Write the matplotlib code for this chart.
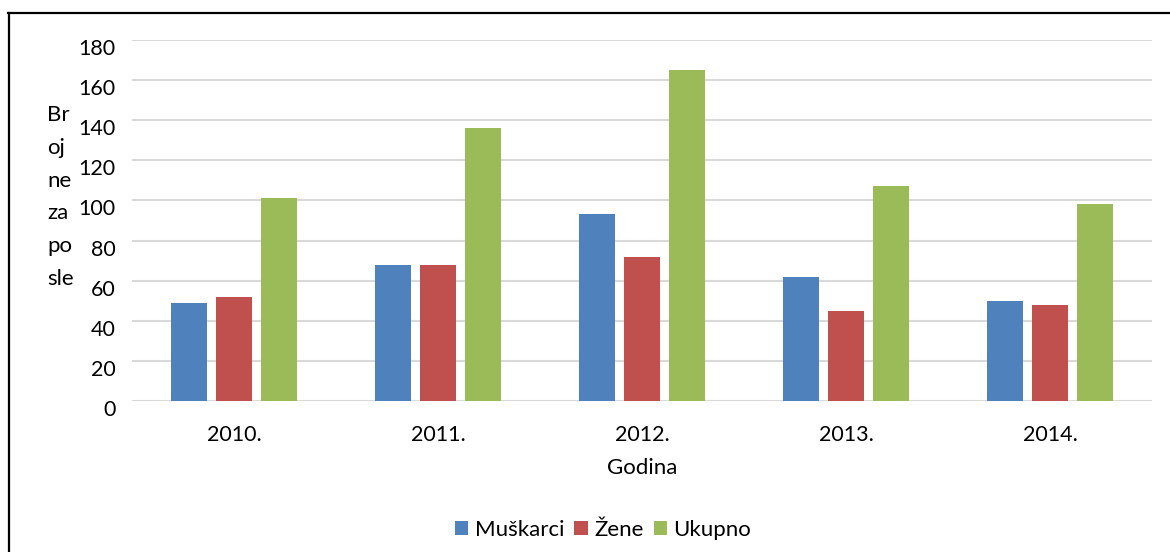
import numpy as np
import matplotlib
matplotlib.use("Agg")
import matplotlib.pyplot as plt
import matplotlib.transforms as mtransforms
from matplotlib.lines import Line2D

plt.rcParams['font.family'] = ['Lato', 'DejaVu Sans']

years = ['2010.', '2011.', '2012.', '2013.', '2014.']
muskarci = [49, 68, 93, 62, 50]
zene = [52, 68, 72, 45, 48]
ukupno = [101, 136, 165, 107, 98]
series_names = ['Muškarci', 'Žene', 'Ukupno']
colors = ['#4F81BD', '#C0504D', '#9BBB59']

FS = 15.5
BAR_W = 36 / 204
STEP = 45 / 204

fig = plt.figure(figsize=(11.7, 5.52), dpi=100)
ax = fig.add_axes([132 / 1170, 1 - 401 / 552, 1020 / 1170, 361 / 552])

x = np.arange(len(years))
for i, (vals, name, col) in enumerate(zip([muskarci, zene, ukupno], series_names, colors)):
    ax.bar(x + (i - 1) * STEP, vals, BAR_W, color=col, label=name, zorder=2)

ax.set_xlim(-0.5, len(years) - 0.5)
ax.set_ylim(0, 180)
ax.set_yticks(np.arange(0, 181, 20))
ax.set_xticks(x)
ax.set_xticklabels(years)
ax.grid(axis='y', color='#D9D9D9', linewidth=1.5, zorder=0)
ax.set_axisbelow(True)
for s in ax.spines.values():
    s.set_visible(False)
ax.tick_params(axis='both', length=0, labelsize=FS, colors='black')
ax.tick_params(axis='y', pad=12)
ax.tick_params(axis='x', pad=17)

# value labels sit a bit below their gridlines in the original
off = mtransforms.ScaledTranslation(0, -7 / 100, fig.dpi_scale_trans)
for lab in ax.get_yticklabels():
    lab.set_transform(lab.get_transform() + off)

ax.set_xlabel('Godina', fontsize=FS + 0.5, labelpad=10)

fig.text(47 / 1170, 1 - 197 / 552, 'Br\noj\nne\nza\npo\nsle', fontsize=FS + 0.5,
         ha='left', va='center', linespacing=1.8)

fig.legend(loc='center', bbox_to_anchor=(603 / 1170, 1 - 530 / 552), ncol=3,
           frameon=False, fontsize=FS + 0.5, handlelength=0.6, handleheight=0.6,
           handletextpad=0.3, columnspacing=0.45)

# chart border (only top and left edges are in view)
fig.add_artist(Line2D([8.5 / 1170, 8.5 / 1170], [0, 1 - 13 / 552], color='black', linewidth=1.6))
fig.add_artist(Line2D([8 / 1170, 1], [1 - 13 / 552, 1 - 13 / 552], color='black', linewidth=1.6))

fig.savefig('out.png', dpi=100)
